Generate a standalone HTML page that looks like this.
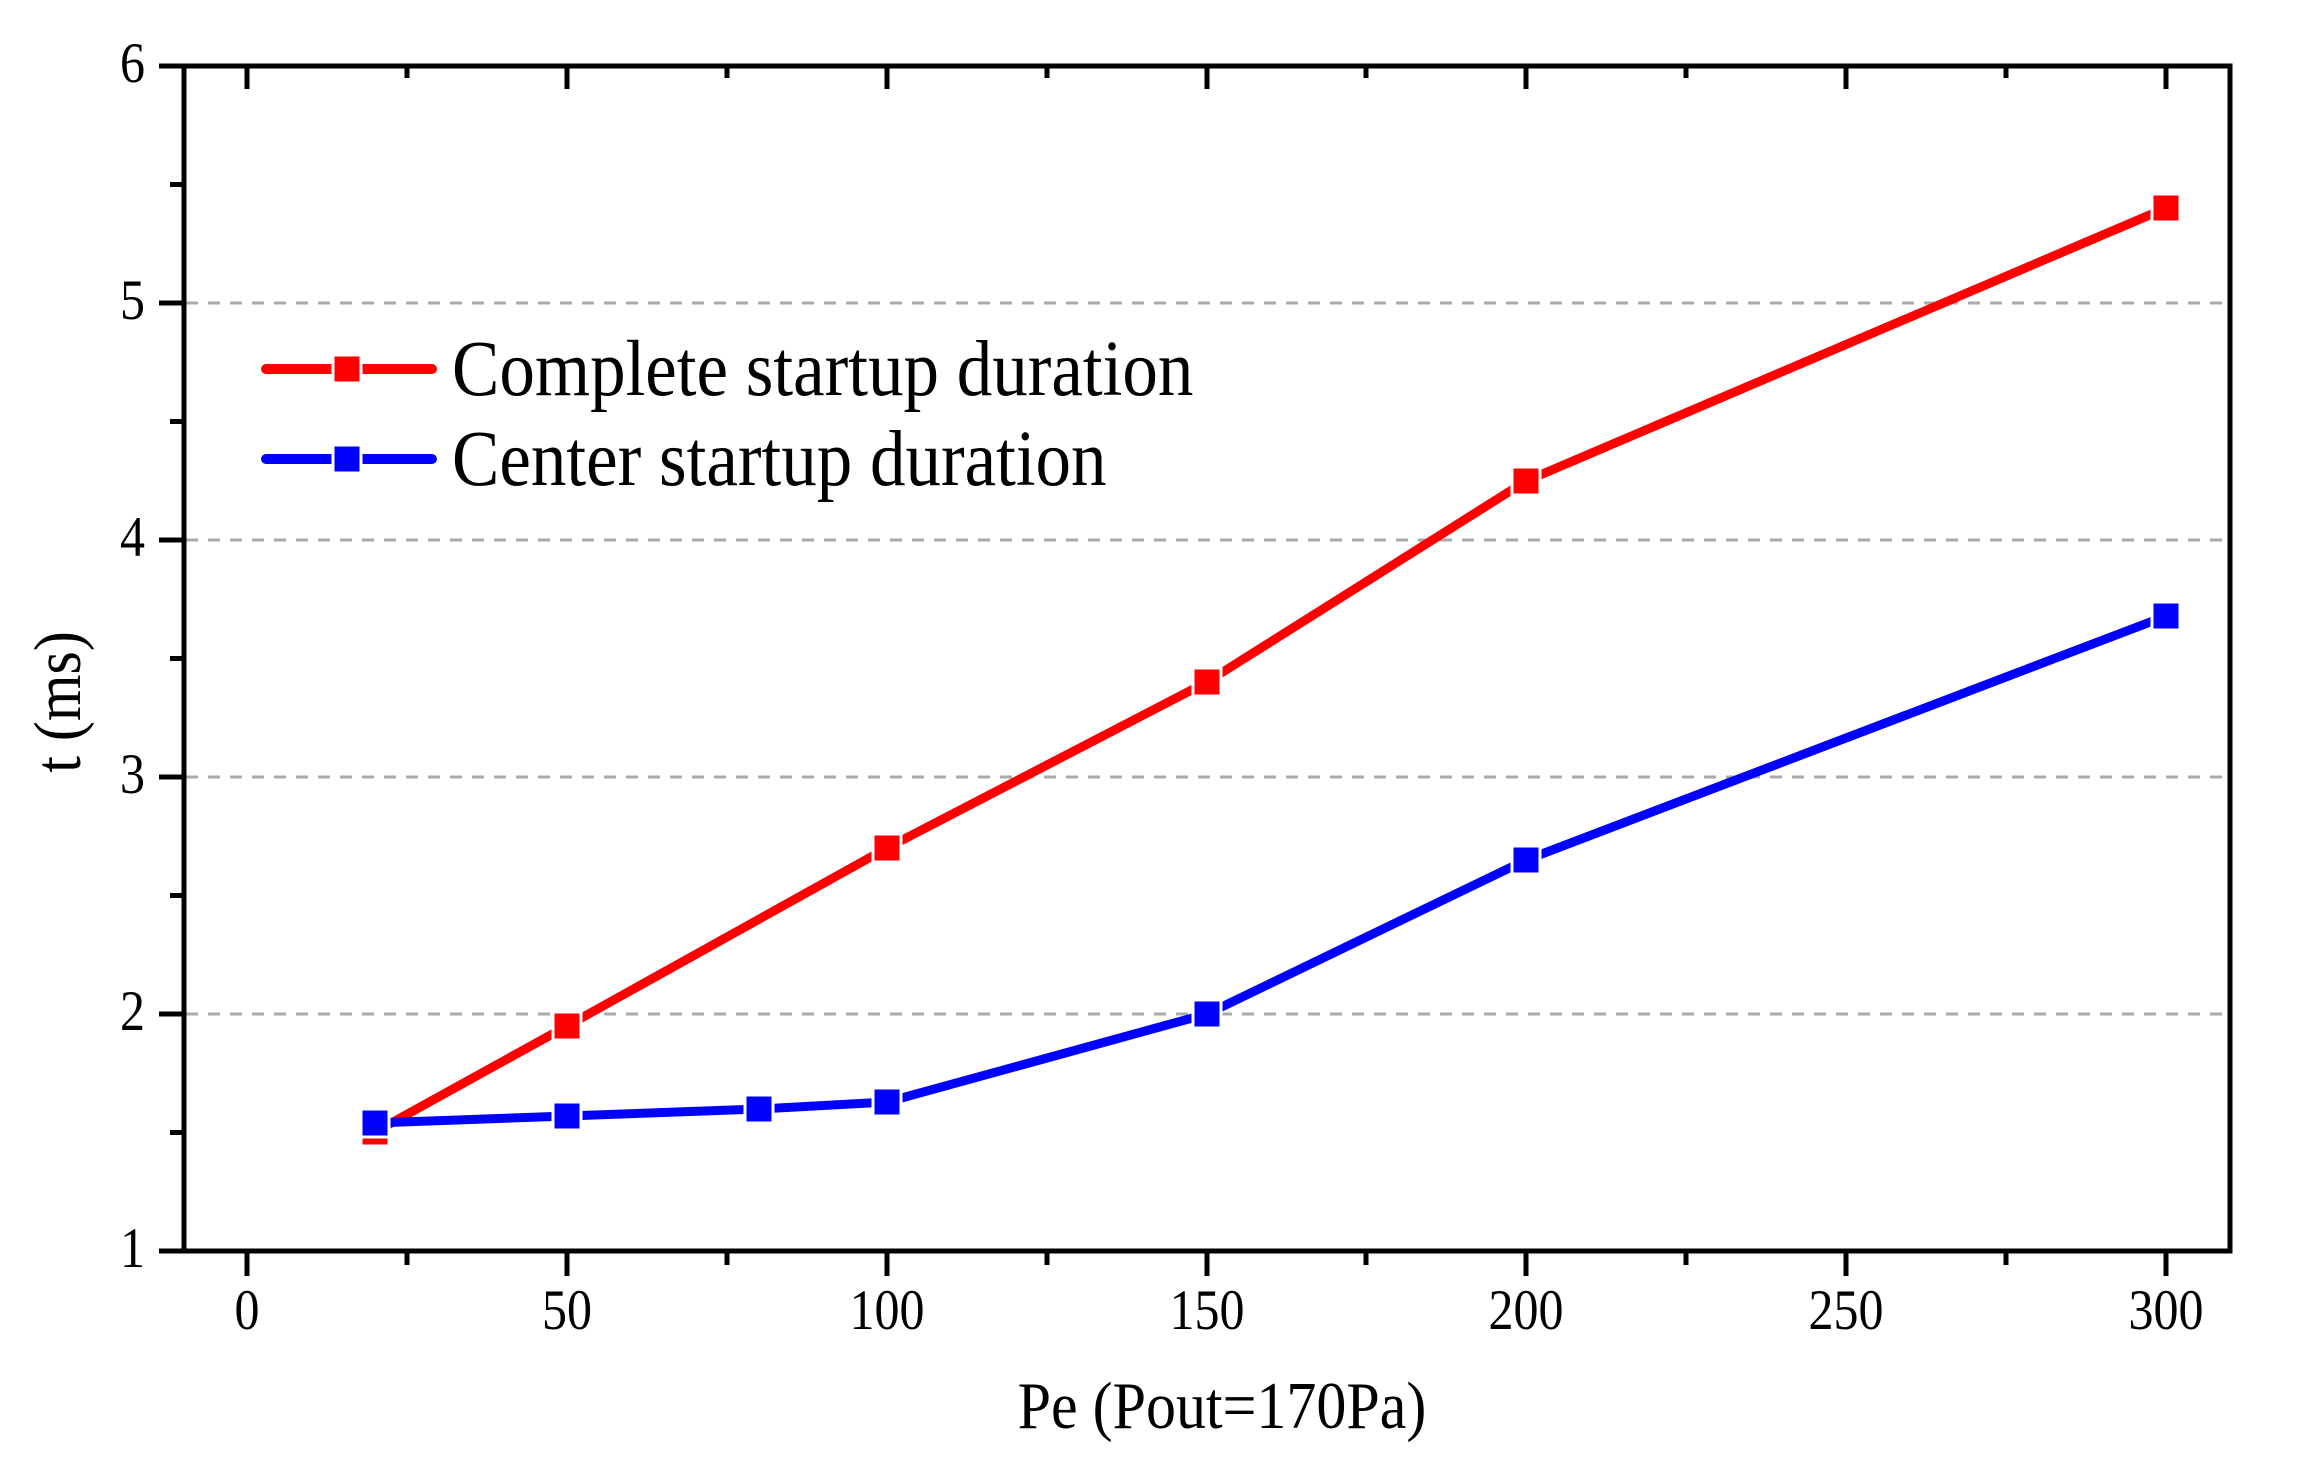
<!DOCTYPE html>
<html><head><meta charset="utf-8"><style>html,body{margin:0;padding:0;background:#fff}</style></head>
<body>
<svg width="2309" height="1472" viewBox="0 0 2309 1472" xmlns="http://www.w3.org/2000/svg" font-family="Liberation Serif, serif">
<rect width="2309" height="1472" fill="#fff"/>
<g stroke="#aaa" stroke-width="3" stroke-dasharray="12,10">
<line x1="186" y1="303" x2="2226" y2="303"/>
<line x1="186" y1="540" x2="2226" y2="540"/>
<line x1="186" y1="777" x2="2226" y2="777"/>
<line x1="186" y1="1014" x2="2226" y2="1014"/>
</g>
<rect x="184" y="66" width="2046" height="1185" fill="none" stroke="#000" stroke-width="5"/>
<g stroke="#000" stroke-width="5">
<line x1="159" y1="66" x2="184" y2="66"/><line x1="159" y1="303" x2="184" y2="303"/><line x1="159" y1="540" x2="184" y2="540"/><line x1="159" y1="777" x2="184" y2="777"/><line x1="159" y1="1014" x2="184" y2="1014"/><line x1="159" y1="1251" x2="184" y2="1251"/>
<line x1="170" y1="184.5" x2="184" y2="184.5"/><line x1="170" y1="421.5" x2="184" y2="421.5"/><line x1="170" y1="658.5" x2="184" y2="658.5"/><line x1="170" y1="895.5" x2="184" y2="895.5"/><line x1="170" y1="1132.5" x2="184" y2="1132.5"/>
</g>
<g stroke="#000" stroke-width="5">
<line x1="247" y1="1251" x2="247" y2="1276"/><line x1="567" y1="1251" x2="567" y2="1276"/><line x1="887" y1="1251" x2="887" y2="1276"/><line x1="1207" y1="1251" x2="1207" y2="1276"/><line x1="1526" y1="1251" x2="1526" y2="1276"/><line x1="1846" y1="1251" x2="1846" y2="1276"/><line x1="2166" y1="1251" x2="2166" y2="1276"/>
<line x1="407" y1="1251" x2="407" y2="1265"/><line x1="727" y1="1251" x2="727" y2="1265"/><line x1="1047" y1="1251" x2="1047" y2="1265"/><line x1="1366" y1="1251" x2="1366" y2="1265"/><line x1="1686" y1="1251" x2="1686" y2="1265"/><line x1="2006" y1="1251" x2="2006" y2="1265"/>
<line x1="247" y1="66" x2="247" y2="89"/><line x1="567" y1="66" x2="567" y2="89"/><line x1="887" y1="66" x2="887" y2="89"/><line x1="1207" y1="66" x2="1207" y2="89"/><line x1="1526" y1="66" x2="1526" y2="89"/><line x1="1846" y1="66" x2="1846" y2="89"/><line x1="2166" y1="66" x2="2166" y2="89"/>
<line x1="407" y1="66" x2="407" y2="78"/><line x1="727" y1="66" x2="727" y2="78"/><line x1="1047" y1="66" x2="1047" y2="78"/><line x1="1366" y1="66" x2="1366" y2="78"/><line x1="1686" y1="66" x2="1686" y2="78"/><line x1="2006" y1="66" x2="2006" y2="78"/>
</g>
<g font-size="50" fill="#000" text-anchor="end">
<text transform="translate(145,82) scale(1,1.15)">6</text><text transform="translate(145,319) scale(1,1.15)">5</text><text transform="translate(145,556) scale(1,1.15)">4</text><text transform="translate(145,793) scale(1,1.15)">3</text><text transform="translate(145,1030) scale(1,1.15)">2</text><text transform="translate(145,1267) scale(1,1.15)">1</text>
</g>
<g font-size="50" fill="#000" text-anchor="middle">
<text transform="translate(247,1329) scale(1,1.15)">0</text><text transform="translate(567,1329) scale(1,1.15)">50</text><text transform="translate(887,1329) scale(1,1.15)">100</text><text transform="translate(1207,1329) scale(1,1.15)">150</text><text transform="translate(1526,1329) scale(1,1.15)">200</text><text transform="translate(1846,1329) scale(1,1.15)">250</text><text transform="translate(2166,1329) scale(1,1.15)">300</text>
<text transform="translate(1222,1428) scale(1,1.12)" font-size="60">Pe (Pout=170Pa)</text>
<text transform="translate(80,702) rotate(-90) scale(1,1.12)" font-size="60">t (ms)</text>
</g>
<polyline fill="none" stroke="#f00" stroke-width="9" stroke-linejoin="round" points="375,1132 567,1026 887,848 1207,682 1526,481 2166,208"/>
<g fill="#f00" stroke="#fff" stroke-width="3">
<rect x="361" y="1118" width="28" height="28"/><rect x="553" y="1012" width="28" height="28"/><rect x="873" y="834" width="28" height="28"/><rect x="1193" y="668" width="28" height="28"/><rect x="1512" y="467" width="28" height="28"/><rect x="2152" y="194" width="28" height="28"/>
</g>
<polyline fill="none" stroke="#00f" stroke-width="9" stroke-linejoin="round" points="375,1123 567,1116 759,1109 887,1102 1207,1014 1526,860 2166,616"/>
<g fill="#00f" stroke="#fff" stroke-width="3">
<rect x="361" y="1109" width="28" height="28"/><rect x="553" y="1102" width="28" height="28"/><rect x="745" y="1095" width="28" height="28"/><rect x="873" y="1088" width="28" height="28"/><rect x="1193" y="1000" width="28" height="28"/><rect x="1512" y="846" width="28" height="28"/><rect x="2152" y="602" width="28" height="28"/>
</g>
<line x1="266" y1="369" x2="432" y2="369" stroke="#f00" stroke-width="10" stroke-linecap="round"/>
<rect x="333" y="355" width="28" height="28" fill="#f00" stroke="#fff" stroke-width="3"/>
<line x1="266" y1="459" x2="432" y2="459" stroke="#00f" stroke-width="10" stroke-linecap="round"/>
<rect x="333" y="445" width="28" height="28" fill="#00f" stroke="#fff" stroke-width="3"/>
<g font-size="71" fill="#000">
<text transform="translate(452,395) scale(1,1.12)">Complete startup duration</text>
<text transform="translate(452,485) scale(1,1.12)">Center startup duration</text>
</g>
</svg>
</body></html>
